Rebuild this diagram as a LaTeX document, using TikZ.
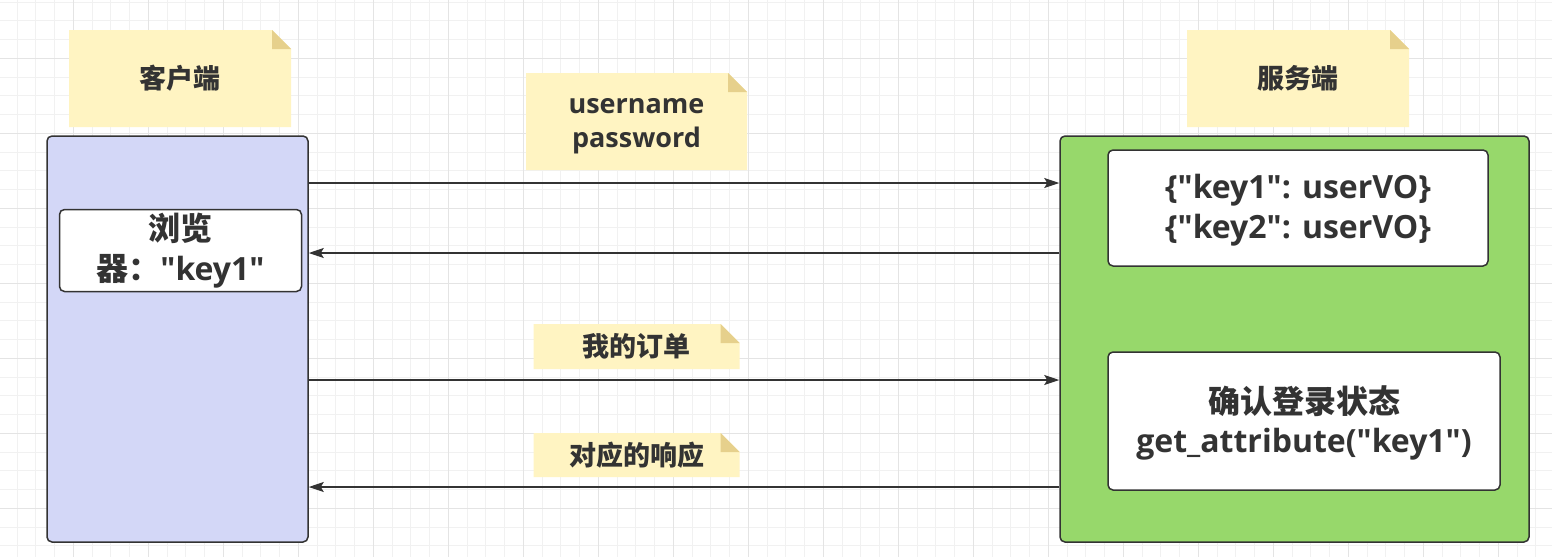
\documentclass[tikz,border=0pt]{standalone}
\usepackage{fontspec}
\newfontfamily\lat{Open Sans}
\newfontfamily\cjk{Noto Sans CJK SC}
\usetikzlibrary{arrows.meta}
\definecolor{txt}{HTML}{333333}
\definecolor{gridminor}{HTML}{F1F1F1}
\definecolor{gridmajor}{HTML}{E4E4E4}
\definecolor{notefill}{HTML}{FFF4C2}
\definecolor{foldfill}{HTML}{E6D08C}
\definecolor{clientfill}{HTML}{D3D7F7}
\definecolor{serverfill}{HTML}{97D86B}
\tikzset{
  notetext/.style={inner sep=0pt, text=txt, align=center,
    font=\lat\bfseries\fontsize{27}{34}\selectfont},
  notebox/.style={notetext,
    path picture={
      \fill[notefill] (path picture bounding box.north west)
        -- ([xshift=-19pt]path picture bounding box.north east)
        -- ([yshift=-19pt]path picture bounding box.north east)
        -- (path picture bounding box.south east)
        -- (path picture bounding box.south west) -- cycle;
      \fill[foldfill] ([xshift=-19pt]path picture bounding box.north east)
        -- ([xshift=-19pt,yshift=-19pt]path picture bounding box.north east)
        -- ([yshift=-19pt]path picture bounding box.north east) -- cycle;
    }},
  bigbox/.style={draw=txt, line width=1.5pt, rounded corners=5pt, inner sep=0pt},
  whitebox/.style={draw=txt, line width=1.5pt, rounded corners=5pt, fill=white,
    inner sep=0pt, text=txt, align=center,
    font=\lat\bfseries\fontsize{32}{39.5}\selectfont},
  arr/.style={draw=txt, line width=1.5pt,
    -{Stealth[length=15pt,width=10pt,inset=3pt]}},
}
\begin{document}
\begin{tikzpicture}[x=1pt,y=-1pt]
\useasboundingbox (0,0) rectangle (1552,557);
\fill[white] (0,0) rectangle (1552,557);
% grid
\foreach \i in {-3,...,78} {
  \draw[gridminor, line width=1pt] ({73.33+18.75*\i},0) -- ({73.33+18.75*\i},557);
}
\foreach \i in {-3,...,26} {
  \draw[gridminor, line width=1pt] (0,{58.33+18.75*\i}) -- (1552,{58.33+18.75*\i});
}
\foreach \i in {0,...,19} {
  \draw[gridmajor, line width=1pt] ({73.33+75*\i},0) -- ({73.33+75*\i},557);
}
\foreach \i in {0,...,6} {
  \draw[gridmajor, line width=1pt] (0,{58.33+75*\i}) -- (1552,{58.33+75*\i});
}

% client side
\node[notebox, minimum width=222pt, minimum height=97pt] (clientnote) at (180,78.5) {\cjk 客户端};
\node[bigbox, fill=clientfill, minimum width=261pt, minimum height=406pt] (client) at (177.5,339) {};
\node[whitebox, minimum width=242pt, minimum height=82pt] (browser) at (180.5,250.5)
  {{\cjk 浏览}\\{\cjk 器：}"key1"};

% server side
\node[notebox, minimum width=222pt, minimum height=97pt] (servernote) at (1298,78.5) {\cjk 服务端};
\node[bigbox, fill=serverfill, minimum width=469pt, minimum height=406pt] (server) at (1294.5,339) {};
\node[whitebox, minimum width=380pt, minimum height=116pt] (store) at (1298,208) {};
\node[notetext, font=\lat\bfseries\fontsize{32}{39.5}\selectfont] (storetext) at ([yshift=-2pt]store.center)
  {\{"key1": userVO\}\\\{"key2": userVO\}};
\node[whitebox, minimum width=392pt, minimum height=138pt] (check) at (1304,421) {};
\node[notetext, font=\lat\bfseries\fontsize{32}{39.5}\selectfont] (checktext) at ([yshift=-2pt]check.center)
  {{\cjk 确认登录状态}\\get\_attribute("key1")};

% message notes
\node[notebox, minimum width=221pt, minimum height=97pt] (cred) at (636.5,121.5) {};
\node[notetext] (credtext) at ([yshift=-5pt]cred.center) {username\\password};
\node[notebox, minimum width=206pt, minimum height=45pt] (order) at (636.5,346.5) {\cjk 我的订单};
\node[notebox, minimum width=206pt, minimum height=44pt] (resp) at (636.5,455) {\cjk 对应的响应};

% arrows
\coordinate (y1) at (0,183);
\coordinate (y2) at (0,253);
\coordinate (y3) at (0,380);
\coordinate (y4) at (0,487);
\draw[arr] (client.east |- y1) -- (server.west |- y1);
\draw[arr] (server.west |- y2) -- (client.east |- y2);
\draw[arr] (client.east |- y3) -- (server.west |- y3);
\draw[arr] (server.west |- y4) -- (client.east |- y4);
\end{tikzpicture}
\end{document}
